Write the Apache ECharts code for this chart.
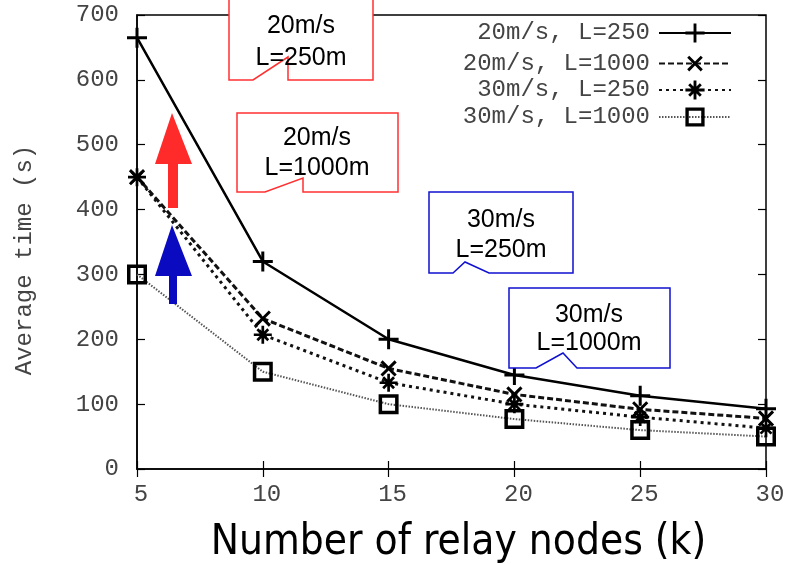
<!DOCTYPE html>
<html><head><meta charset="utf-8">
<script src="https://cdn.jsdelivr.net/npm/echarts@6/dist/echarts.min.js"></script>
<style>html,body{margin:0;padding:0;background:#fff}#c{width:795px;height:564px}</style>
</head><body><div id="c"></div>
<script>
const xValues = [5, 10, 15, 20, 25, 30];
const s20_250 = [665, 320, 200, 145, 113, 93];
const s20_1000 = [450, 232, 155, 115, 92, 78];
const s30_250 = [450, 207, 133, 100, 80, 63];
const s30_1000 = [300, 150, 100, 77, 60, 50];
const seriesNames = ['20m/s, L=250', '20m/s, L=1000', '30m/s, L=250', '30m/s, L=1000'];
const xAxisTitle = 'Number of relay nodes (k)';
const yAxisTitle = 'Average time (s)';

const pair = arr => xValues.map((x, i) => [x, arr[i]]);
const mono = 'Liberation Mono';
const PLUS = 'path://M-1.5,-10H1.5V-1.5H10V1.5H1.5V10H-1.5V1.5H-10V-1.5H-1.5Z';
const STAR = 'path://M-1.5,-10H1.5V-1.5H10V1.5H1.5V10H-1.5V1.5H-10V-1.5H-1.5Z M-7.1,-5L-5,-7.1L7.1,5L5,7.1Z M5,-7.1L7.1,-5L-5,7.1L-7.1,5Z';
const SQUARE = 'path://M-10,-10H10V10H-10Z M-6.5,-6.5V6.5H6.5V-6.5Z';

const chart = echarts.init(document.getElementById('c'));
const tickStyle = {inside: true, length: 8, lineStyle: {color: '#000', width: 1.2}};
const legendBase = (name, top) => ({
  data: [name], right: 63, top: top, align: 'right', orient: 'vertical',
  padding: 0, itemWidth: 72, itemHeight: 24, itemGap: 4,
  textStyle: {fontFamily: mono, fontSize: 24, color: '#444', padding: [0, 4, 0, 0]}
});
chart.setOption({
  animation: false,
  backgroundColor: '#fff',
  grid: {left: 137, right: 29, top: 15, bottom: 95, show: true, borderColor: '#000', borderWidth: 1.5,
         backgroundColor: 'transparent', containLabel: false, outerBoundsMode: 'none'},
  legend: [
    legendBase(seriesNames[0], 21),
    legendBase(seriesNames[1], 50),
    legendBase(seriesNames[2], 78),
    legendBase(seriesNames[3], 105)
  ],
  xAxis: [{
    type: 'value', min: 5, max: 30, interval: 5,
    name: xAxisTitle, nameLocation: 'middle', nameGap: 53,
    nameTextStyle: {fontFamily: 'DejaVu Sans Condensed', fontSize: 42, color: '#000', padding: [0, 0, 0, 14]},
    axisLine: {lineStyle: {color: '#000', width: 1.5}},
    axisTick: tickStyle, splitLine: {show: false},
    axisLabel: {fontFamily: mono, fontSize: 24, color: '#444', margin: 14, padding: [0, 0, 0, 8]}
  }, {
    type: 'value', min: 5, max: 30, interval: 5, position: 'top',
    axisLine: {show: false}, axisTick: tickStyle, axisLabel: {show: false}, splitLine: {show: false}
  }],
  yAxis: [{
    type: 'value', min: 0, max: 700, interval: 100,
    name: yAxisTitle, nameLocation: 'middle', nameGap: 100, nameRotate: 90,
    nameTextStyle: {fontFamily: mono, fontSize: 24, color: '#444', padding: [0, 36, 0, 0]},
    axisLine: {show: true, lineStyle: {color: '#000', width: 1.5}},
    axisTick: tickStyle, splitLine: {show: false},
    axisLabel: {fontFamily: mono, fontSize: 24, color: '#444', margin: 18}
  }, {
    type: 'value', min: 0, max: 700, interval: 100, position: 'right',
    axisLine: {show: false}, axisTick: tickStyle, axisLabel: {show: false}, splitLine: {show: false}
  }],
  series: [
    {name: seriesNames[0], type: 'line', data: pair(s20_250), symbol: PLUS, symbolSize: 20,
     lineStyle: {color: '#000', width: 2.5, type: 'solid'}, itemStyle: {color: '#000'}, z: 4},
    {name: seriesNames[1], type: 'line', data: pair(s20_1000), symbol: PLUS, symbolRotate: 45, symbolSize: 20,
     lineStyle: {color: '#111', width: 3, type: [6, 3]}, itemStyle: {color: '#000'}, z: 3},
    {name: seriesNames[2], type: 'line', data: pair(s30_250), symbol: STAR, symbolSize: 18,
     lineStyle: {color: '#111', width: 3, type: [3, 4]}, itemStyle: {color: '#000'}, z: 3},
    {name: seriesNames[3], type: 'line', data: pair(s30_1000), symbol: SQUARE, symbolSize: 20,
     lineStyle: {color: '#555', width: 2, type: [1.5, 1.5]}, itemStyle: {color: '#000'}, z: 2}
  ],
  graphic: [
    {type: 'polygon', z: 100, shape: {points: [[155,164],[172,113],[192,164],[178,164],[178,208],[168,208],[168,164]]}, style: {fill: '#ff2a2a'}},
    {type: 'polygon', z: 100, shape: {points: [[155,276],[172,225],[192,276],[177,276],[177,304],[169,304],[169,276]]}, style: {fill: '#0a0ac0'}},
    {type: 'polygon', z: 100, shape: {points: [[229,-2],[373,-2],[373,80],[288,80],[288,57],[253,80],[229,80]]}, style: {fill: '#fff', stroke: '#ff3030', lineWidth: 1.5}},
    {type: 'polygon', z: 100, shape: {points: [[237,113],[398,113],[398,192],[303,192],[303,178],[265,192],[237,192]]}, style: {fill: '#fff', stroke: '#ff3030', lineWidth: 1.5}},
    {type: 'polygon', z: 100, shape: {points: [[429,192],[573,192],[573,273],[489,273],[465,262],[453,273],[429,273]]}, style: {fill: '#fff', stroke: '#1010d0', lineWidth: 1.5}},
    {type: 'polygon', z: 100, shape: {points: [[509,288],[670,288],[670,368],[577,368],[563,353],[536,368],[509,368]]}, style: {fill: '#fff', stroke: '#1010d0', lineWidth: 1.5}},
    {type: 'text', z: 101, x: 301, y: 26, style: {text: '20m/s', fontFamily: 'Liberation Sans', fontSize: 25, fill: '#000', align: 'center', verticalAlign: 'middle'}},
    {type: 'text', z: 101, x: 301, y: 58, style: {text: 'L=250m', fontFamily: 'Liberation Sans', fontSize: 25, fill: '#000', align: 'center', verticalAlign: 'middle'}},
    {type: 'text', z: 101, x: 317, y: 138, style: {text: '20m/s', fontFamily: 'Liberation Sans', fontSize: 25, fill: '#000', align: 'center', verticalAlign: 'middle'}},
    {type: 'text', z: 101, x: 317, y: 168, style: {text: 'L=1000m', fontFamily: 'Liberation Sans', fontSize: 25, fill: '#000', align: 'center', verticalAlign: 'middle'}},
    {type: 'text', z: 101, x: 501, y: 220, style: {text: '30m/s', fontFamily: 'Liberation Sans', fontSize: 25, fill: '#000', align: 'center', verticalAlign: 'middle'}},
    {type: 'text', z: 101, x: 501, y: 250, style: {text: 'L=250m', fontFamily: 'Liberation Sans', fontSize: 25, fill: '#000', align: 'center', verticalAlign: 'middle'}},
    {type: 'text', z: 101, x: 589, y: 315, style: {text: '30m/s', fontFamily: 'Liberation Sans', fontSize: 25, fill: '#000', align: 'center', verticalAlign: 'middle'}},
    {type: 'text', z: 101, x: 589, y: 343, style: {text: 'L=1000m', fontFamily: 'Liberation Sans', fontSize: 25, fill: '#000', align: 'center', verticalAlign: 'middle'}}
  ]
});
</script></body></html>
